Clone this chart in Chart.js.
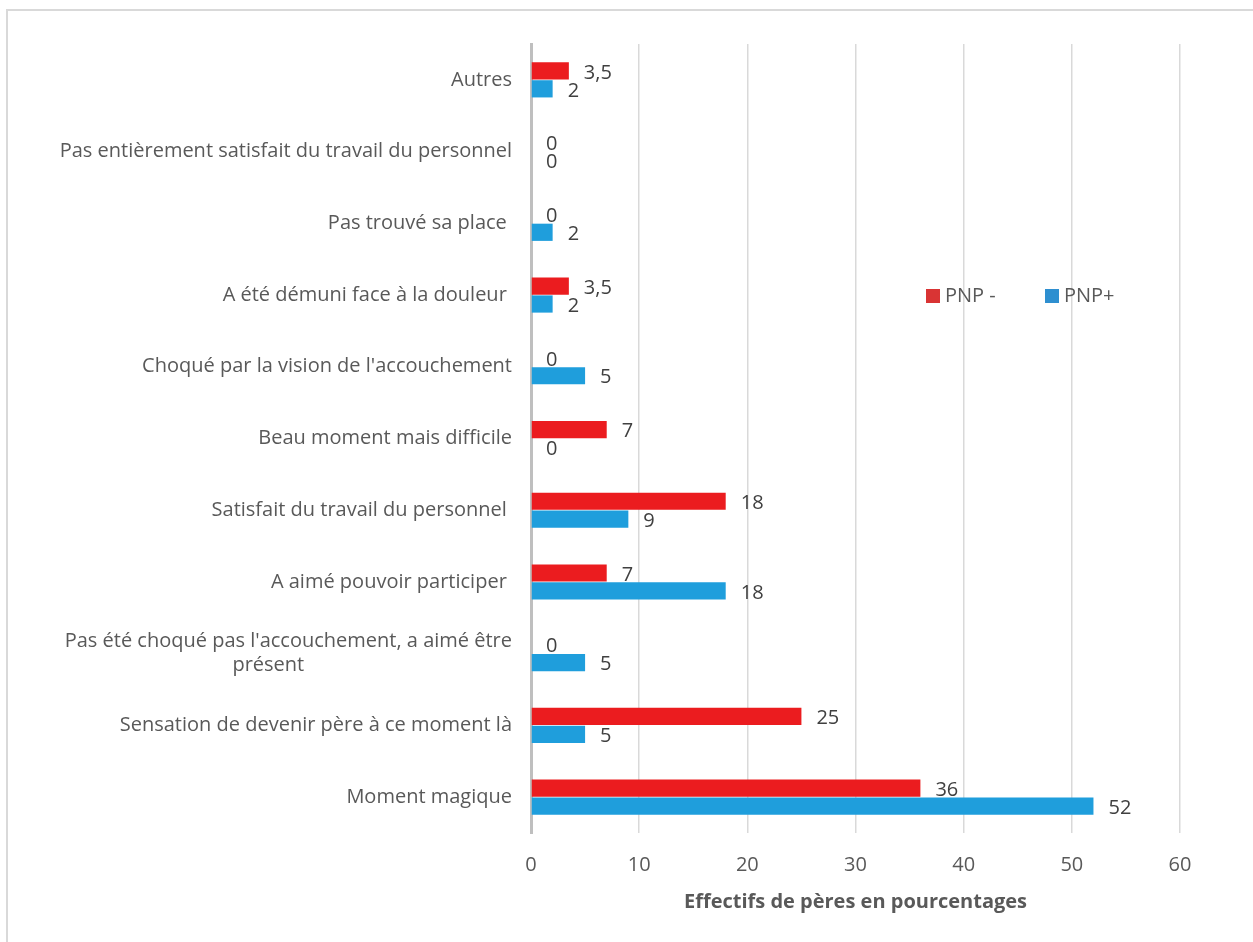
<!DOCTYPE html>
<html>
<head>
<meta charset="utf-8">
<script src="https://cdn.jsdelivr.net/npm/chart.js@4"></script>
<style>
  html, body { margin: 0; padding: 0; background: #fff; }
  canvas { display: block; }
</style>
</head>
<body>
<canvas id="myChart" width="1253" height="942"></canvas>
<script>
// categories, top to bottom
var categories = [
  "Autres",
  "Pas entièrement satisfait du travail du personnel",
  "Pas trouvé sa place ",
  "A été démuni face à la douleur ",
  "Choqué par la vision de l'accouchement",
  "Beau moment mais difficile",
  "Satisfait du travail du personnel ",
  "A aimé pouvoir participer ",
  ["Pas été choqué pas l'accouchement, a aimé être", "présent" + " ".repeat(40)],
  "Sensation de devenir père à ce moment là",
  "Moment magique"
];
var seriesNames = ["PNP -", "PNP+"];
var pnpMoins = [3.5, 0, 0, 3.5, 0, 7, 18, 7, 0, 25, 36];
var pnpPlus = [2, 0, 2, 2, 5, 0, 9, 18, 5, 5, 52];
var xTicks = [0, 10, 20, 30, 40, 50, 60];
var axisTitle = "Effectifs de pères en pourcentages";

var RED = "#EB1C1F";
var BLUE = "#1F9EDC";
var FONT = "'Open Sans', sans-serif";

// value labels right of each bar
var valueLabels = {
  id: "valueLabels",
  afterDatasetsDraw(chart) {
    var ctx = chart.ctx;
    ctx.save();
    ctx.font = "20px " + FONT;
    ctx.fillStyle = "#404040";
    ctx.textAlign = "left";
    ctx.textBaseline = "middle";
    chart.data.datasets.forEach(function (ds, i) {
      chart.getDatasetMeta(i).data.forEach(function (bar, j) {
        var txt = String(ds.data[j]).replace(".", ",");
        ctx.fillText(txt, bar.x + 15, bar.y + 2);
      });
    });
    ctx.restore();
  }
};

// legend inside the plot + outer frame
var extras = {
  id: "extras",
  afterDraw(chart) {
    var ctx = chart.ctx;
    ctx.save();
    ctx.strokeStyle = "#d9d9d9";
    ctx.lineWidth = 2;
    ctx.beginPath();
    ctx.moveTo(7, 942);
    ctx.lineTo(7, 10);
    ctx.lineTo(1253, 10);
    ctx.stroke();

    ctx.font = "20px " + FONT;
    ctx.textBaseline = "middle";
    ctx.textAlign = "left";
    var lx = [926, 1045];
    var ly = 296;
    var lc = ["#D93434", "#2E8FD0"];
    chart.data.datasets.forEach(function (ds, i) {
      ctx.fillStyle = lc[i];
      ctx.fillRect(lx[i], ly - 7, 14, 14);
      ctx.fillStyle = "#595959";
      ctx.fillText(ds.label, lx[i] + 19, ly);
    });
    ctx.restore();
  }
};

var ctx = document.getElementById("myChart");
var myChart = new Chart(ctx, {
  type: "bar",
  data: {
    labels: categories,
    datasets: [
      { label: seriesNames[0], data: pnpMoins, backgroundColor: RED },
      { label: seriesNames[1], data: pnpPlus, backgroundColor: BLUE }
    ]
  },
  options: {
    indexAxis: "y",
    responsive: false,
    animation: false,
    categoryPercentage: 0.5,
    barPercentage: 0.96,
    layout: { padding: { top: 44, right: 73, left: 0, bottom: 0 } },
    plugins: {
      legend: { display: false },
      tooltip: { enabled: false }
    },
    scales: {
      x: {
        min: 0,
        max: 60,
        afterBuildTicks(scale) {
          scale.ticks = xTicks.map(function (v) { return { value: v }; });
        },
        grid: { color: "#d9d9d9", lineWidth: 1.5, drawTicks: false },
        border: { display: false },
        ticks: {
          color: "#595959",
          font: { family: FONT, size: 20 },
          padding: 20
        },
        title: {
          display: true,
          text: axisTitle,
          color: "#595959",
          font: { family: FONT, size: 20, weight: "bold" },
          padding: { top: 6, bottom: 28 }
        },
        afterFit(scale) { scale.height = 942 - 833; }
      },
      y: {
        grid: { display: false, drawTicks: false },
        border: { display: true, color: "#bfbfbf", width: 3 },
        ticks: {
          color: "#595959",
          font: { family: FONT, size: 20 },
          padding: 19,
          autoSkip: false
        },
        afterFit(scale) { scale.width = 531; }
      }
    }
  },
  plugins: [valueLabels, extras]
});
</script>
</body>
</html>
